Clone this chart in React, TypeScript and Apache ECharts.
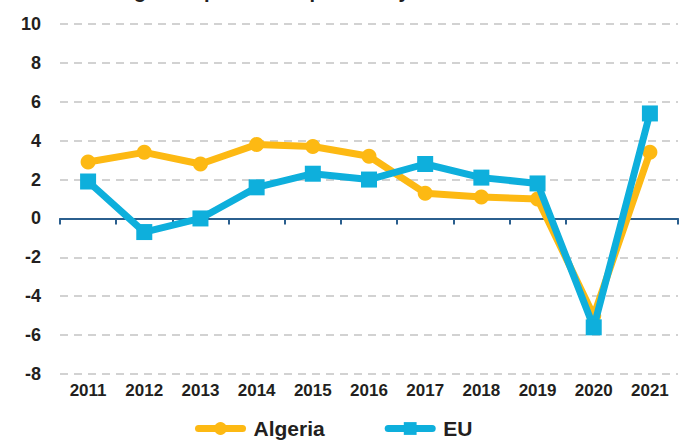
import React, { useEffect, useRef } from "react";
import * as echarts from "echarts";

const years = ["2011", "2012", "2013", "2014", "2015", "2016", "2017", "2018", "2019", "2020", "2021"];
const algeria = [2.9, 3.4, 2.8, 3.8, 3.7, 3.2, 1.3, 1.1, 1.0, -5.0, 3.4];
const eu = [1.9, -0.7, 0.0, 1.6, 2.3, 2.0, 2.8, 2.1, 1.8, -5.6, 5.4];
const titleText = "% change compared with previous year";

const FONT = "'Liberation Sans', Arial, sans-serif";
const ORANGE = "#fdb913";
const BLUE = "#0eafdc";
const INK = "#231f20";

export default function App() {
  const ref = useRef<HTMLDivElement>(null);
  useEffect(() => {
    document.body.style.margin = "0";
    const chart = echarts.init(ref.current!, undefined, { renderer: "svg" });
    chart.setOption({
      animation: false,
      backgroundColor: "#ffffff",
      grid: { left: 60, right: 10, top: 24, bottom: 67 },
      graphic: [
        {
          type: "text",
          left: 64,
          top: -19,
          style: { text: titleText, font: `bold 20px ${FONT}`, fill: INK },
        },
      ],
      legend: {
        left: 190,
        top: 413,
        itemWidth: 44,
        itemHeight: 16,
        itemGap: 60,
        lineStyle: { width: 7, cap: "round" },
        textStyle: { fontFamily: FONT, fontWeight: "bold", fontSize: 21, color: INK, padding: [0, 0, 0, 6] },
        data: ["Algeria", "EU"],
      },
      xAxis: [
        {
          type: "category",
          data: years,
          position: "bottom",
          axisLine: { show: false, onZero: false },
          axisTick: { show: false },
          axisLabel: { interval: 0, fontFamily: FONT, fontWeight: "bold", fontSize: 17, color: INK, margin: 8 },
        },
        {
          type: "category",
          data: years,
          position: "bottom",
          axisLine: { show: true, onZero: true, lineStyle: { color: "#2b5f8e", width: 2 } },
          axisTick: { show: true, length: 6, lineStyle: { color: "#2b5f8e", width: 2 } },
          axisLabel: { show: false },
        },
      ],
      yAxis: {
        type: "value",
        min: -8,
        max: 10,
        interval: 2,
        axisLine: { show: false },
        axisTick: { show: false },
        axisLabel: { fontFamily: FONT, fontWeight: "bold", fontSize: 18, color: INK, margin: 19 },
        splitLine: { lineStyle: { color: "#c4c4c4", type: [8, 6], width: 1.5 } },
      },
      series: [
        {
          name: "Algeria",
          type: "line",
          data: algeria,
          symbol: "circle",
          symbolSize: 15,
          color: ORANGE,
          lineStyle: { width: 7, color: ORANGE },
          itemStyle: { color: ORANGE },
          z: 2,
        },
        {
          name: "EU",
          type: "line",
          data: eu,
          symbol: "rect",
          symbolSize: 16,
          color: BLUE,
          lineStyle: { width: 7, color: BLUE },
          itemStyle: { color: BLUE },
          z: 3,
        },
      ],
    });
    return () => chart.dispose();
  }, []);
  return <div ref={ref} style={{ width: 688, height: 441, position: "absolute", left: 0, top: 0 }} />;
}
